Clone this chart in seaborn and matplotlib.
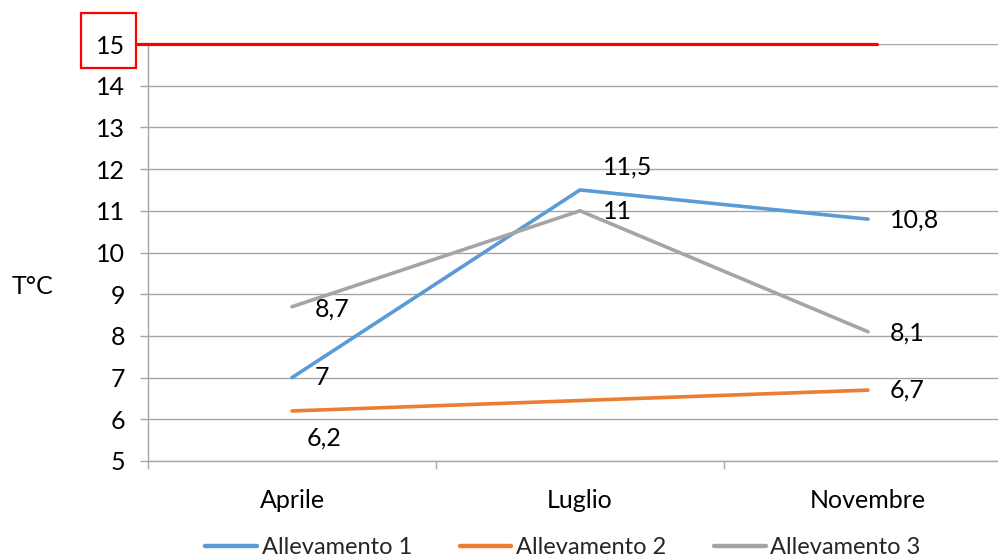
import matplotlib
matplotlib.use("Agg")
import matplotlib.pyplot as plt
import seaborn as sns
import pandas as pd
from matplotlib.patches import Rectangle

# ---- data ----
months = ["Aprile", "Luglio", "Novembre"]
allev1 = [7.0, 11.5, 10.8]
allev2 = [6.2, 6.45, 6.7]
allev3 = [8.7, 11.0, 8.1]
series_names = ["Allevamento 1", "Allevamento 2", "Allevamento 3"]
threshold = 15
y_ticks = list(range(5, 16))
y_label = "T°C"

# labels shown (Allevamento 2 at Luglio has no label in the original)
labels1 = ["7", "11,5", "10,8"]
labels2 = ["6,2", None, "6,7"]
labels3 = ["8,7", "11", "8,1"]

colors = ["#5B9BD5", "#ED7D31", "#A5A5A5"]

rows = []
for name, vals in zip(series_names, [allev1, allev2, allev3]):
    for m, v in zip(months, vals):
        rows.append({"Mese": m, "Valore": v, "Serie": name})
df = pd.DataFrame(rows)

sns.set_theme(style="white")
plt.rcParams["font.family"] = ["Lato", "DejaVu Sans"]

W, H = 998, 560
fig = plt.figure(figsize=(W / 100, H / 100), dpi=100)
left, right, top, bottom = 148, 1012, 44, 461
ax = fig.add_axes([left / W, 1 - bottom / H, (right - left) / W, (bottom - top) / H])

sns.lineplot(data=df, x="Mese", y="Valore", hue="Serie", palette=colors,
             linewidth=2.6, sort=False, ax=ax, legend=True)

ax.set_xlim(-0.5, 2.5)
ax.set_ylim(5, 15)
ax.set_yticks(y_ticks)
ax.set_yticklabels([str(t) for t in y_ticks])
ax.yaxis.grid(True, color="#A6A6A6", linewidth=1.0)
ax.set_axisbelow(True)
for s in ["top", "right"]:
    ax.spines[s].set_visible(False)
ax.spines["left"].set_color("#A6A6A6")
ax.spines["bottom"].set_color("#A6A6A6")
ax.spines["left"].set_linewidth(1.0)
ax.spines["bottom"].set_linewidth(1.0)

fs = 18.0
ax.tick_params(axis="y", length=5.5, width=1.0, color="#A6A6A6", pad=11,
               labelsize=fs, labelcolor="black", left=True)
ax.set_xticks(range(len(months)))
ax.set_xticklabels(months)
ax.tick_params(axis="x", which="major", length=0, pad=20, labelsize=fs, labelcolor="black")
ax.set_xticks([-0.5, 0.5, 1.5, 2.5], minor=True)
ax.tick_params(axis="x", which="minor", length=6, width=1.0, color="#A6A6A6", bottom=True)
ax.set_xlabel("")
ax.set_ylabel("")
fig.text(33 / W, 1 - 287 / H, y_label, ha="center", va="center", fontsize=fs, color="black")

# threshold line
ax.axhline(threshold, xmin=(137 - left) / (right - left), xmax=(877 - left) / (right - left),
           color="#FF0000", linewidth=2.3, clip_on=False, zorder=5)
# box around 15 label
fig.patches.append(Rectangle((81 / W, 1 - 68 / H), 55 / W, 55 / H, transform=fig.transFigure,
                             fill=False, edgecolor="#FF0000", linewidth=1.6))

# data labels
offsets1 = [(23, 0), (23, 23), (22, -1)]
offsets2 = [(15, -27), None, (22, 0)]
offsets3 = [(23, -2), (23, -1), (22, -1)]
for vals, labs, offs in [(allev1, labels1, offsets1), (allev2, labels2, offsets2), (allev3, labels3, offsets3)]:
    for i, (v, lab, off) in enumerate(zip(vals, labs, offs)):
        if lab is None:
            continue
        ax.annotate(lab, (i, v), xytext=off, textcoords="offset pixels",
                    ha="left", va="center", fontsize=fs, color="black")

# legend
leg = ax.legend(loc="center", bbox_to_anchor=(563 / W, 1 - 548 / H),
                bbox_transform=fig.transFigure, ncol=3, frameon=False,
                fontsize=17.0, handlelength=2.2, handletextpad=0.2, columnspacing=2.0,
                borderaxespad=0, borderpad=0)
for line in leg.get_lines():
    line.set_linewidth(3.2)

fig.savefig("out.png", dpi=100)
